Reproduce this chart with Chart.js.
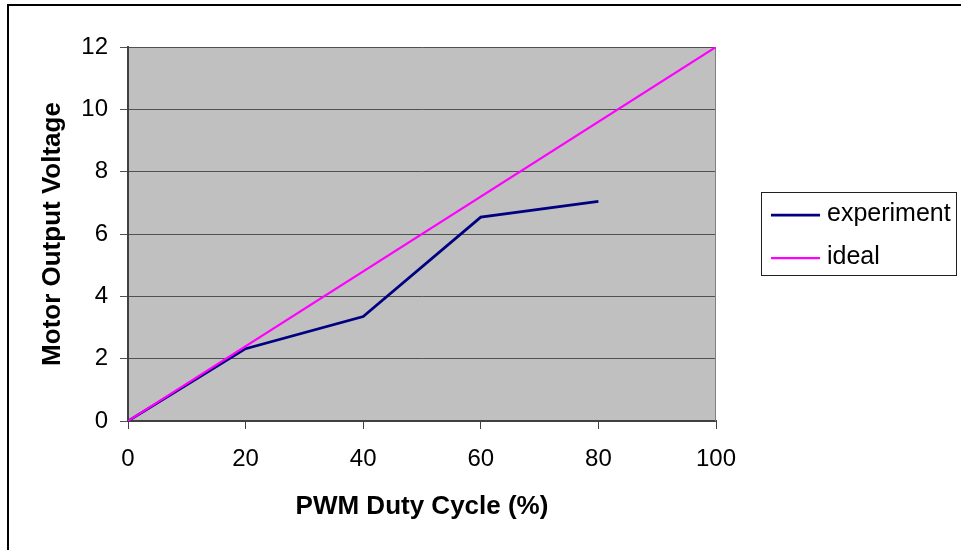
<!DOCTYPE html>
<html>
<head>
<meta charset="utf-8">
<script src="https://cdn.jsdelivr.net/npm/chart.js@4.4.0/dist/chart.umd.min.js"></script>
<style>
  html, body { margin: 0; padding: 0; background: #fff; overflow: hidden; }
  #wrap { position: relative; width: 961px; height: 550px; }
</style>
</head>
<body>
<div id="wrap"><canvas id="c" width="961" height="550"></canvas></div>
<script>
// Measured motor output voltage against PWM duty cycle, plus the ideal linear response
const dutyCycle = [0, 20, 40, 60, 80];
const experimentVolts = [0, 2.32, 3.35, 6.54, 7.05];
const idealDuty = [0, 100];
const idealVolts = [0, 12];
const seriesNames = ['experiment', 'ideal'];
const seriesColors = ['#000080', '#ff00ff'];
const xTickValues = [0, 20, 40, 60, 80, 100];
const yTickValues = [0, 2, 4, 6, 8, 10, 12];
const xTitle = 'PWM Duty Cycle (%)';
const yTitle = 'Motor Output Voltage';

const FONT = "'Liberation Sans', Arial, sans-serif";

const toPoints = (xs, ys) => xs.map((x, i) => ({ x, y: ys[i] }));

// Paints the white page, the outer frame, the grey plot area and the boxed legend
const framePlugin = {
  id: 'frame',
  beforeDraw(chart) {
    const { ctx, chartArea: a, width, height } = chart;
    ctx.save();
    ctx.fillStyle = '#ffffff';
    ctx.fillRect(0, 0, width, height);
    ctx.fillStyle = '#c0c0c0';
    ctx.fillRect(a.left, a.top, a.right - a.left, a.bottom - a.top);
    ctx.strokeStyle = '#000000';
    ctx.lineWidth = 2;
    ctx.strokeRect(8, 5, width + 20, height + 20);
    ctx.restore();
  },
  beforeDatasetsDraw(chart) {
    const { ctx, chartArea: a } = chart;
    ctx.save();
    ctx.strokeStyle = '#808080';
    ctx.lineWidth = 1;
    ctx.beginPath();
    ctx.moveTo(Math.round(a.right) - 0.5, a.top);
    ctx.lineTo(Math.round(a.right) - 0.5, a.bottom);
    ctx.stroke();
    ctx.restore();
  },
  afterDraw(chart) {
    const { ctx } = chart;
    ctx.save();
    ctx.strokeStyle = '#202020';
    ctx.lineWidth = 1;
    ctx.strokeRect(761.5, 192.5, 195, 83);
    const rows = [215, 258];
    chart.data.datasets.forEach((ds, i) => {
      const y = rows[i];
      ctx.strokeStyle = ds.borderColor;
      ctx.lineWidth = ds.borderWidth;
      ctx.beginPath();
      ctx.moveTo(771, y);
      ctx.lineTo(820, y);
      ctx.stroke();
      ctx.fillStyle = '#000000';
      ctx.font = '25px ' + FONT;
      ctx.textBaseline = 'middle';
      ctx.textAlign = 'left';
      ctx.fillText(ds.label, 827, y - 1);
    });
    ctx.restore();
  }
};

new Chart(document.getElementById('c'), {
  type: 'line',
  data: {
    datasets: [
      {
        label: seriesNames[0],
        data: toPoints(dutyCycle, experimentVolts),
        borderColor: seriesColors[0],
        borderWidth: 2.75,
        pointRadius: 0,
        tension: 0,
        order: 1
      },
      {
        label: seriesNames[1],
        data: toPoints(idealDuty, idealVolts),
        borderColor: seriesColors[1],
        borderWidth: 2.25,
        pointRadius: 0,
        tension: 0,
        order: 0
      }
    ]
  },
  options: {
    responsive: false,
    animation: false,
    devicePixelRatio: 1,
    events: [],
    layout: { padding: { left: 0, top: 47, right: 245, bottom: 0 } },
    plugins: { legend: { display: false }, tooltip: { enabled: false } },
    scales: {
      x: {
        type: 'linear',
        min: 0,
        max: 100,
        afterBuildTicks(scale) { scale.ticks = xTickValues.map(v => ({ value: v })); },
        afterFit(scale) { scale.height = 129; },
        grid: { drawOnChartArea: false, drawTicks: true, tickLength: 8, color: '#404040' },
        border: { color: '#404040', width: 2 },
        ticks: { color: '#000', font: { family: FONT, size: 24 }, padding: 16, maxRotation: 0 },
        title: {
          display: true,
          text: xTitle,
          color: '#000',
          font: { family: FONT, size: 26, weight: 'bold' },
          padding: { top: 0, bottom: 28 }
        }
      },
      y: {
        type: 'linear',
        min: 0,
        max: 12,
        afterBuildTicks(scale) { scale.ticks = yTickValues.map(v => ({ value: v })); },
        afterFit(scale) { scale.width = 128; },
        grid: { drawOnChartArea: true, drawTicks: true, tickLength: 8, color: '#505050' },
        border: { color: '#404040', width: 2 },
        ticks: { color: '#000', font: { family: FONT, size: 24 }, padding: 12 },
        title: {
          display: true,
          text: yTitle,
          color: '#000',
          font: { family: FONT, size: 26, weight: 'bold' },
          padding: { top: 37, bottom: 0 }
        }
      }
    }
  },
  plugins: [framePlugin]
});
</script>
</body>
</html>
